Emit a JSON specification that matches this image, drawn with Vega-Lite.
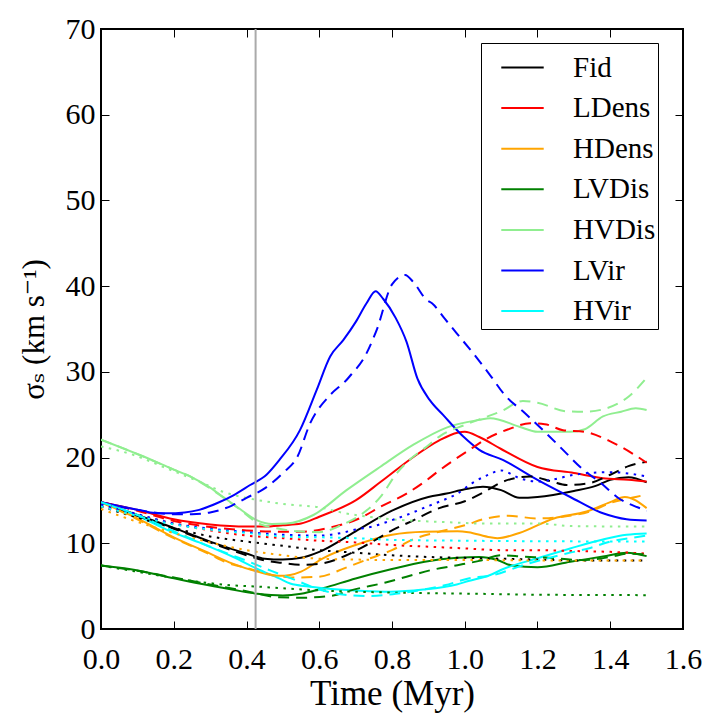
{
  "$schema": "https://vega.github.io/schema/vega-lite/v6.json",
  "width": 582,
  "height": 600,
  "autosize": {"type": "none"},
  "padding": {"left": 101, "top": 29, "right": 36, "bottom": 99},
  "background": "white",
  "config": {
    "view": {"stroke": "#000", "strokeWidth": 2},
    "font": "Liberation Serif, DejaVu Serif, serif",
    "style": {
      "guide-label": {"font": "Liberation Serif, DejaVu Serif, serif", "fill": "#000"},
      "guide-title": {"font": "Liberation Serif, DejaVu Serif, serif", "fill": "#000", "fontWeight": "normal"}
    },
    "axis": {
      "domain": false,
      "grid": false,
      "tickColor": "#000",
      "tickWidth": 1,
      "tickSize": -8,
      "labelFont": "Liberation Serif, DejaVu Serif, serif",
      "labelFontSize": 30,
      "labelColor": "#000",
      "titleFont": "Liberation Serif, DejaVu Serif, serif",
      "titleFontSize": 35,
      "titleFontWeight": "normal",
      "titleColor": "#000"
    },
    "legend": {
      "labelFont": "Liberation Serif, DejaVu Serif, serif",
      "labelFontSize": 29,
      "labelColor": "#000",
      "strokeColor": "#000",
      "fillColor": "white",
      "cornerRadius": 0
    }
  },
  "data": {
    "values": [
      {"m":"Fid","s":"solid","t":0,"v":14.8},{"m":"Fid","s":"solid","t":0.1,"v":13.3},{"m":"Fid","s":"solid","t":0.2,"v":11.8},{"m":"Fid","s":"solid","t":0.3,"v":10.2},{"m":"Fid","s":"solid","t":0.4,"v":8.8},{"m":"Fid","s":"solid","t":0.45,"v":8.2},{"m":"Fid","s":"solid","t":0.5,"v":8.1},{"m":"Fid","s":"solid","t":0.55,"v":8.3},{"m":"Fid","s":"solid","t":0.6,"v":9.0},{"m":"Fid","s":"solid","t":0.7,"v":11.4},{"m":"Fid","s":"solid","t":0.8,"v":13.8},{"m":"Fid","s":"solid","t":0.9,"v":15.4},{"m":"Fid","s":"solid","t":0.95,"v":15.8},{"m":"Fid","s":"solid","t":1.0,"v":16.3},{"m":"Fid","s":"solid","t":1.05,"v":16.6},{"m":"Fid","s":"solid","t":1.1,"v":16.2},{"m":"Fid","s":"solid","t":1.15,"v":15.3},{"m":"Fid","s":"solid","t":1.2,"v":15.4},{"m":"Fid","s":"solid","t":1.3,"v":16.1},{"m":"Fid","s":"solid","t":1.36,"v":16.7},{"m":"Fid","s":"solid","t":1.4,"v":17.4},{"m":"Fid","s":"solid","t":1.45,"v":17.7},{"m":"Fid","s":"solid","t":1.5,"v":17.1},
      {"m":"Fid","s":"dashed","t":0,"v":14.8},{"m":"Fid","s":"dashed","t":0.1,"v":13.2},{"m":"Fid","s":"dashed","t":0.2,"v":11.7},{"m":"Fid","s":"dashed","t":0.3,"v":10.1},{"m":"Fid","s":"dashed","t":0.4,"v":8.6},{"m":"Fid","s":"dashed","t":0.45,"v":8.0},{"m":"Fid","s":"dashed","t":0.5,"v":7.7},{"m":"Fid","s":"dashed","t":0.55,"v":7.5},{"m":"Fid","s":"dashed","t":0.6,"v":7.6},{"m":"Fid","s":"dashed","t":0.675,"v":8.6},{"m":"Fid","s":"dashed","t":0.73,"v":9.8},{"m":"Fid","s":"dashed","t":0.8,"v":11.5},{"m":"Fid","s":"dashed","t":0.86,"v":12.7},{"m":"Fid","s":"dashed","t":0.93,"v":14.1},{"m":"Fid","s":"dashed","t":1.0,"v":14.9},{"m":"Fid","s":"dashed","t":1.05,"v":15.9},{"m":"Fid","s":"dashed","t":1.1,"v":17.1},{"m":"Fid","s":"dashed","t":1.18,"v":17.8},{"m":"Fid","s":"dashed","t":1.24,"v":17.2},{"m":"Fid","s":"dashed","t":1.28,"v":16.8},{"m":"Fid","s":"dashed","t":1.34,"v":17.0},{"m":"Fid","s":"dashed","t":1.4,"v":18.0},{"m":"Fid","s":"dashed","t":1.45,"v":19.0},{"m":"Fid","s":"dashed","t":1.5,"v":19.5},
      {"m":"Fid","s":"dotted","t":0,"v":14.3},{"m":"Fid","s":"dotted","t":0.1,"v":13.0},{"m":"Fid","s":"dotted","t":0.2,"v":11.8},{"m":"Fid","s":"dotted","t":0.3,"v":10.8},{"m":"Fid","s":"dotted","t":0.4,"v":10.2},{"m":"Fid","s":"dotted","t":0.5,"v":9.7},{"m":"Fid","s":"dotted","t":0.6,"v":9.2},{"m":"Fid","s":"dotted","t":0.7,"v":8.9},{"m":"Fid","s":"dotted","t":0.8,"v":8.6},{"m":"Fid","s":"dotted","t":0.9,"v":8.4},{"m":"Fid","s":"dotted","t":1.0,"v":8.3},{"m":"Fid","s":"dotted","t":1.1,"v":8.2},{"m":"Fid","s":"dotted","t":1.2,"v":8.1},{"m":"Fid","s":"dotted","t":1.3,"v":8.0},{"m":"Fid","s":"dotted","t":1.4,"v":8.0},{"m":"Fid","s":"dotted","t":1.5,"v":8.0},
      {"m":"LDens","s":"solid","t":0,"v":14.8},{"m":"LDens","s":"solid","t":0.1,"v":13.9},{"m":"LDens","s":"solid","t":0.2,"v":12.8},{"m":"LDens","s":"solid","t":0.3,"v":12.2},{"m":"LDens","s":"solid","t":0.4,"v":11.95},{"m":"LDens","s":"solid","t":0.45,"v":11.95},{"m":"LDens","s":"solid","t":0.5,"v":12.1},{"m":"LDens","s":"solid","t":0.55,"v":12.3},{"m":"LDens","s":"solid","t":0.6,"v":13.1},{"m":"LDens","s":"solid","t":0.7,"v":15.0},{"m":"LDens","s":"solid","t":0.77,"v":17.2},{"m":"LDens","s":"solid","t":0.86,"v":20.1},{"m":"LDens","s":"solid","t":0.93,"v":22.0},{"m":"LDens","s":"solid","t":0.98,"v":22.9},{"m":"LDens","s":"solid","t":1.0,"v":23.0},{"m":"LDens","s":"solid","t":1.04,"v":22.4},{"m":"LDens","s":"solid","t":1.1,"v":21.0},{"m":"LDens","s":"solid","t":1.2,"v":18.9},{"m":"LDens","s":"solid","t":1.3,"v":18.2},{"m":"LDens","s":"solid","t":1.38,"v":17.6},{"m":"LDens","s":"solid","t":1.45,"v":17.4},{"m":"LDens","s":"solid","t":1.5,"v":17.2},
      {"m":"LDens","s":"dashed","t":0,"v":14.8},{"m":"LDens","s":"dashed","t":0.1,"v":13.8},{"m":"LDens","s":"dashed","t":0.2,"v":12.6},{"m":"LDens","s":"dashed","t":0.3,"v":11.9},{"m":"LDens","s":"dashed","t":0.4,"v":11.5},{"m":"LDens","s":"dashed","t":0.5,"v":11.35},{"m":"LDens","s":"dashed","t":0.55,"v":11.35},{"m":"LDens","s":"dashed","t":0.63,"v":11.85},{"m":"LDens","s":"dashed","t":0.71,"v":12.9},{"m":"LDens","s":"dashed","t":0.77,"v":14.3},{"m":"LDens","s":"dashed","t":0.84,"v":15.8},{"m":"LDens","s":"dashed","t":0.89,"v":17.2},{"m":"LDens","s":"dashed","t":0.93,"v":18.5},{"m":"LDens","s":"dashed","t":0.97,"v":19.7},{"m":"LDens","s":"dashed","t":1.02,"v":21.1},{"m":"LDens","s":"dashed","t":1.06,"v":22.2},{"m":"LDens","s":"dashed","t":1.12,"v":23.3},{"m":"LDens","s":"dashed","t":1.18,"v":24.0},{"m":"LDens","s":"dashed","t":1.22,"v":23.9},{"m":"LDens","s":"dashed","t":1.27,"v":23.2},{"m":"LDens","s":"dashed","t":1.33,"v":23.0},{"m":"LDens","s":"dashed","t":1.4,"v":21.9},{"m":"LDens","s":"dashed","t":1.46,"v":20.5},{"m":"LDens","s":"dashed","t":1.5,"v":19.4},
      {"m":"LDens","s":"dotted","t":0,"v":14.3},{"m":"LDens","s":"dotted","t":0.1,"v":13.3},{"m":"LDens","s":"dotted","t":0.2,"v":12.3},{"m":"LDens","s":"dotted","t":0.3,"v":11.5},{"m":"LDens","s":"dotted","t":0.4,"v":10.9},{"m":"LDens","s":"dotted","t":0.5,"v":10.6},{"m":"LDens","s":"dotted","t":0.6,"v":10.3},{"m":"LDens","s":"dotted","t":0.7,"v":10.1},{"m":"LDens","s":"dotted","t":0.8,"v":9.8},{"m":"LDens","s":"dotted","t":0.9,"v":9.6},{"m":"LDens","s":"dotted","t":1.0,"v":9.4},{"m":"LDens","s":"dotted","t":1.1,"v":9.2},{"m":"LDens","s":"dotted","t":1.2,"v":9.2},{"m":"LDens","s":"dotted","t":1.3,"v":9.1},{"m":"LDens","s":"dotted","t":1.4,"v":9.0},{"m":"LDens","s":"dotted","t":1.5,"v":8.8},
      {"m":"HDens","s":"solid","t":0,"v":14.8},{"m":"HDens","s":"solid","t":0.1,"v":12.9},{"m":"HDens","s":"solid","t":0.2,"v":10.7},{"m":"HDens","s":"solid","t":0.3,"v":8.8},{"m":"HDens","s":"solid","t":0.36,"v":7.65},{"m":"HDens","s":"solid","t":0.43,"v":6.7},{"m":"HDens","s":"solid","t":0.49,"v":6.2},{"m":"HDens","s":"solid","t":0.52,"v":6.3},{"m":"HDens","s":"solid","t":0.55,"v":6.7},{"m":"HDens","s":"solid","t":0.61,"v":8.25},{"m":"HDens","s":"solid","t":0.7,"v":9.8},{"m":"HDens","s":"solid","t":0.8,"v":11.0},{"m":"HDens","s":"solid","t":0.89,"v":11.35},{"m":"HDens","s":"solid","t":0.98,"v":11.4},{"m":"HDens","s":"solid","t":1.01,"v":11.3},{"m":"HDens","s":"solid","t":1.07,"v":10.7},{"m":"HDens","s":"solid","t":1.09,"v":10.6},{"m":"HDens","s":"solid","t":1.15,"v":11.2},{"m":"HDens","s":"solid","t":1.245,"v":12.9},{"m":"HDens","s":"solid","t":1.335,"v":13.7},{"m":"HDens","s":"solid","t":1.4,"v":14.8},{"m":"HDens","s":"solid","t":1.44,"v":15.4},{"m":"HDens","s":"solid","t":1.5,"v":14.1},
      {"m":"HDens","s":"dashed","t":0,"v":14.8},{"m":"HDens","s":"dashed","t":0.1,"v":12.8},{"m":"HDens","s":"dashed","t":0.2,"v":10.6},{"m":"HDens","s":"dashed","t":0.3,"v":8.7},{"m":"HDens","s":"dashed","t":0.34,"v":7.85},{"m":"HDens","s":"dashed","t":0.41,"v":7.0},{"m":"HDens","s":"dashed","t":0.47,"v":6.3},{"m":"HDens","s":"dashed","t":0.53,"v":6.0},{"m":"HDens","s":"dashed","t":0.6,"v":6.1},{"m":"HDens","s":"dashed","t":0.67,"v":7.1},{"m":"HDens","s":"dashed","t":0.74,"v":8.25},{"m":"HDens","s":"dashed","t":0.8,"v":9.2},{"m":"HDens","s":"dashed","t":0.86,"v":10.5},{"m":"HDens","s":"dashed","t":0.93,"v":11.35},{"m":"HDens","s":"dashed","t":1.0,"v":12.1},{"m":"HDens","s":"dashed","t":1.06,"v":12.9},{"m":"HDens","s":"dashed","t":1.12,"v":13.2},{"m":"HDens","s":"dashed","t":1.2,"v":12.9},{"m":"HDens","s":"dashed","t":1.27,"v":13.1},{"m":"HDens","s":"dashed","t":1.35,"v":13.8},{"m":"HDens","s":"dashed","t":1.4,"v":14.7},{"m":"HDens","s":"dashed","t":1.47,"v":15.4},{"m":"HDens","s":"dashed","t":1.5,"v":15.7},
      {"m":"HDens","s":"dotted","t":0,"v":14.0},{"m":"HDens","s":"dotted","t":0.1,"v":12.5},{"m":"HDens","s":"dotted","t":0.2,"v":11.2},{"m":"HDens","s":"dotted","t":0.3,"v":10.1},{"m":"HDens","s":"dotted","t":0.4,"v":9.2},{"m":"HDens","s":"dotted","t":0.5,"v":8.6},{"m":"HDens","s":"dotted","t":0.6,"v":8.2},{"m":"HDens","s":"dotted","t":0.7,"v":8.1},{"m":"HDens","s":"dotted","t":0.8,"v":8.05},{"m":"HDens","s":"dotted","t":1.0,"v":8.05},{"m":"HDens","s":"dotted","t":1.2,"v":8.0},{"m":"HDens","s":"dotted","t":1.5,"v":8.0},
      {"m":"LVDis","s":"solid","t":0,"v":7.4},{"m":"LVDis","s":"solid","t":0.09,"v":6.9},{"m":"LVDis","s":"solid","t":0.18,"v":6.1},{"m":"LVDis","s":"solid","t":0.27,"v":5.3},{"m":"LVDis","s":"solid","t":0.36,"v":4.6},{"m":"LVDis","s":"solid","t":0.43,"v":4.1},{"m":"LVDis","s":"solid","t":0.5,"v":3.9},{"m":"LVDis","s":"solid","t":0.55,"v":4.1},{"m":"LVDis","s":"solid","t":0.61,"v":4.75},{"m":"LVDis","s":"solid","t":0.7,"v":5.9},{"m":"LVDis","s":"solid","t":0.8,"v":7.0},{"m":"LVDis","s":"solid","t":0.89,"v":7.85},{"m":"LVDis","s":"solid","t":0.98,"v":8.3},{"m":"LVDis","s":"solid","t":1.04,"v":8.4},{"m":"LVDis","s":"solid","t":1.09,"v":8.05},{"m":"LVDis","s":"solid","t":1.13,"v":7.4},{"m":"LVDis","s":"solid","t":1.2,"v":7.2},{"m":"LVDis","s":"solid","t":1.29,"v":7.85},{"m":"LVDis","s":"solid","t":1.38,"v":8.45},{"m":"LVDis","s":"solid","t":1.445,"v":8.9},{"m":"LVDis","s":"solid","t":1.5,"v":8.5},
      {"m":"LVDis","s":"dashed","t":0,"v":7.4},{"m":"LVDis","s":"dashed","t":0.1,"v":6.8},{"m":"LVDis","s":"dashed","t":0.2,"v":6.0},{"m":"LVDis","s":"dashed","t":0.3,"v":5.2},{"m":"LVDis","s":"dashed","t":0.4,"v":4.4},{"m":"LVDis","s":"dashed","t":0.49,"v":3.7},{"m":"LVDis","s":"dashed","t":0.55,"v":3.65},{"m":"LVDis","s":"dashed","t":0.63,"v":3.85},{"m":"LVDis","s":"dashed","t":0.7,"v":4.65},{"m":"LVDis","s":"dashed","t":0.78,"v":5.4},{"m":"LVDis","s":"dashed","t":0.84,"v":6.1},{"m":"LVDis","s":"dashed","t":0.91,"v":6.9},{"m":"LVDis","s":"dashed","t":0.98,"v":7.45},{"m":"LVDis","s":"dashed","t":1.04,"v":7.95},{"m":"LVDis","s":"dashed","t":1.1,"v":8.6},{"m":"LVDis","s":"dashed","t":1.16,"v":8.45},{"m":"LVDis","s":"dashed","t":1.23,"v":8.3},{"m":"LVDis","s":"dashed","t":1.32,"v":8.05},{"m":"LVDis","s":"dashed","t":1.4,"v":8.4},{"m":"LVDis","s":"dashed","t":1.45,"v":8.8},{"m":"LVDis","s":"dashed","t":1.5,"v":8.7},
      {"m":"LVDis","s":"dotted","t":0,"v":7.4},{"m":"LVDis","s":"dotted","t":0.09,"v":6.75},{"m":"LVDis","s":"dotted","t":0.18,"v":6.1},{"m":"LVDis","s":"dotted","t":0.27,"v":5.5},{"m":"LVDis","s":"dotted","t":0.36,"v":5.1},{"m":"LVDis","s":"dotted","t":0.43,"v":4.95},{"m":"LVDis","s":"dotted","t":0.5,"v":4.75},{"m":"LVDis","s":"dotted","t":0.6,"v":4.5},{"m":"LVDis","s":"dotted","t":0.8,"v":4.25},{"m":"LVDis","s":"dotted","t":1.05,"v":4.1},{"m":"LVDis","s":"dotted","t":1.2,"v":4.0},{"m":"LVDis","s":"dotted","t":1.5,"v":3.95},
      {"m":"HVDis","s":"solid","t":0,"v":22.1},{"m":"HVDis","s":"solid","t":0.107,"v":20.3},{"m":"HVDis","s":"solid","t":0.2,"v":18.6},{"m":"HVDis","s":"solid","t":0.25,"v":17.7},{"m":"HVDis","s":"solid","t":0.3,"v":16.5},{"m":"HVDis","s":"solid","t":0.336,"v":15.4},{"m":"HVDis","s":"solid","t":0.382,"v":14.0},{"m":"HVDis","s":"solid","t":0.428,"v":12.7},{"m":"HVDis","s":"solid","t":0.47,"v":12.25},{"m":"HVDis","s":"solid","t":0.51,"v":12.3},{"m":"HVDis","s":"solid","t":0.584,"v":13.3},{"m":"HVDis","s":"solid","t":0.675,"v":16.2},{"m":"HVDis","s":"solid","t":0.767,"v":18.9},{"m":"HVDis","s":"solid","t":0.859,"v":21.5},{"m":"HVDis","s":"solid","t":0.95,"v":23.5},{"m":"HVDis","s":"solid","t":1.04,"v":24.4},{"m":"HVDis","s":"solid","t":1.07,"v":24.6},{"m":"HVDis","s":"solid","t":1.15,"v":23.6},{"m":"HVDis","s":"solid","t":1.2,"v":23.0},{"m":"HVDis","s":"solid","t":1.29,"v":23.0},{"m":"HVDis","s":"solid","t":1.33,"v":23.3},{"m":"HVDis","s":"solid","t":1.38,"v":24.8},{"m":"HVDis","s":"solid","t":1.43,"v":25.35},{"m":"HVDis","s":"solid","t":1.47,"v":25.75},{"m":"HVDis","s":"solid","t":1.5,"v":25.55},
      {"m":"HVDis","s":"dashed","t":0,"v":22.1},{"m":"HVDis","s":"dashed","t":0.1,"v":20.4},{"m":"HVDis","s":"dashed","t":0.2,"v":18.6},{"m":"HVDis","s":"dashed","t":0.25,"v":17.7},{"m":"HVDis","s":"dashed","t":0.3,"v":16.4},{"m":"HVDis","s":"dashed","t":0.38,"v":14.0},{"m":"HVDis","s":"dashed","t":0.43,"v":12.4},{"m":"HVDis","s":"dashed","t":0.49,"v":11.7},{"m":"HVDis","s":"dashed","t":0.54,"v":11.4},{"m":"HVDis","s":"dashed","t":0.6,"v":11.3},{"m":"HVDis","s":"dashed","t":0.66,"v":12.1},{"m":"HVDis","s":"dashed","t":0.72,"v":13.5},{"m":"HVDis","s":"dashed","t":0.77,"v":15.5},{"m":"HVDis","s":"dashed","t":0.81,"v":18.0},{"m":"HVDis","s":"dashed","t":0.85,"v":19.8},{"m":"HVDis","s":"dashed","t":0.89,"v":21.1},{"m":"HVDis","s":"dashed","t":0.935,"v":22.6},{"m":"HVDis","s":"dashed","t":1.0,"v":23.8},{"m":"HVDis","s":"dashed","t":1.05,"v":24.6},{"m":"HVDis","s":"dashed","t":1.1,"v":25.4},{"m":"HVDis","s":"dashed","t":1.16,"v":26.6},{"m":"HVDis","s":"dashed","t":1.2,"v":26.4},{"m":"HVDis","s":"dashed","t":1.28,"v":25.4},{"m":"HVDis","s":"dashed","t":1.33,"v":25.35},{"m":"HVDis","s":"dashed","t":1.39,"v":25.75},{"m":"HVDis","s":"dashed","t":1.45,"v":27.1},{"m":"HVDis","s":"dashed","t":1.5,"v":29.3},
      {"m":"HVDis","s":"dotted","t":0,"v":21.3},{"m":"HVDis","s":"dotted","t":0.09,"v":20.3},{"m":"HVDis","s":"dotted","t":0.18,"v":18.75},{"m":"HVDis","s":"dotted","t":0.27,"v":17.2},{"m":"HVDis","s":"dotted","t":0.336,"v":16.0},{"m":"HVDis","s":"dotted","t":0.43,"v":15.05},{"m":"HVDis","s":"dotted","t":0.52,"v":14.5},{"m":"HVDis","s":"dotted","t":0.6,"v":14.2},{"m":"HVDis","s":"dotted","t":0.66,"v":13.6},{"m":"HVDis","s":"dotted","t":0.8,"v":12.8},{"m":"HVDis","s":"dotted","t":0.93,"v":12.5},{"m":"HVDis","s":"dotted","t":1.06,"v":12.3},{"m":"HVDis","s":"dotted","t":1.2,"v":12.3},{"m":"HVDis","s":"dotted","t":1.3,"v":12.0},{"m":"HVDis","s":"dotted","t":1.5,"v":11.95},
      {"m":"LVir","s":"solid","t":0,"v":14.8},{"m":"LVir","s":"solid","t":0.09,"v":14.0},{"m":"LVir","s":"solid","t":0.135,"v":13.6},{"m":"LVir","s":"solid","t":0.18,"v":13.5},{"m":"LVir","s":"solid","t":0.23,"v":13.6},{"m":"LVir","s":"solid","t":0.27,"v":13.9},{"m":"LVir","s":"solid","t":0.32,"v":14.7},{"m":"LVir","s":"solid","t":0.364,"v":15.6},{"m":"LVir","s":"solid","t":0.41,"v":16.8},{"m":"LVir","s":"solid","t":0.455,"v":18.0},{"m":"LVir","s":"solid","t":0.49,"v":19.7},{"m":"LVir","s":"solid","t":0.547,"v":23.2},{"m":"LVir","s":"solid","t":0.593,"v":27.9},{"m":"LVir","s":"solid","t":0.63,"v":31.8},{"m":"LVir","s":"solid","t":0.666,"v":33.7},{"m":"LVir","s":"solid","t":0.7,"v":35.8},{"m":"LVir","s":"solid","t":0.73,"v":38.0},{"m":"LVir","s":"solid","t":0.755,"v":39.4},{"m":"LVir","s":"solid","t":0.776,"v":38.5},{"m":"LVir","s":"solid","t":0.81,"v":36.3},{"m":"LVir","s":"solid","t":0.84,"v":33.5},{"m":"LVir","s":"solid","t":0.87,"v":29.2},{"m":"LVir","s":"solid","t":0.904,"v":26.7},{"m":"LVir","s":"solid","t":0.941,"v":24.95},{"m":"LVir","s":"solid","t":0.996,"v":22.45},{"m":"LVir","s":"solid","t":1.04,"v":20.9},{"m":"LVir","s":"solid","t":1.106,"v":19.7},{"m":"LVir","s":"solid","t":1.2,"v":17.4},{"m":"LVir","s":"solid","t":1.29,"v":15.4},{"m":"LVir","s":"solid","t":1.38,"v":13.5},{"m":"LVir","s":"solid","t":1.445,"v":12.8},{"m":"LVir","s":"solid","t":1.5,"v":12.65},
      {"m":"LVir","s":"dashed","t":0,"v":14.8},{"m":"LVir","s":"dashed","t":0.1,"v":13.9},{"m":"LVir","s":"dashed","t":0.2,"v":13.4},{"m":"LVir","s":"dashed","t":0.25,"v":13.4},{"m":"LVir","s":"dashed","t":0.3,"v":13.6},{"m":"LVir","s":"dashed","t":0.36,"v":14.4},{"m":"LVir","s":"dashed","t":0.4,"v":15.3},{"m":"LVir","s":"dashed","t":0.45,"v":16.4},{"m":"LVir","s":"dashed","t":0.5,"v":18.2},{"m":"LVir","s":"dashed","t":0.54,"v":20.1},{"m":"LVir","s":"dashed","t":0.575,"v":24.0},{"m":"LVir","s":"dashed","t":0.63,"v":27.3},{"m":"LVir","s":"dashed","t":0.675,"v":29.05},{"m":"LVir","s":"dashed","t":0.69,"v":29.8},{"m":"LVir","s":"dashed","t":0.72,"v":31.4},{"m":"LVir","s":"dashed","t":0.758,"v":34.9},{"m":"LVir","s":"dashed","t":0.8,"v":40.2},{"m":"LVir","s":"dashed","t":0.836,"v":41.3},{"m":"LVir","s":"dashed","t":0.86,"v":40.4},{"m":"LVir","s":"dashed","t":0.895,"v":38.4},{"m":"LVir","s":"dashed","t":0.91,"v":38.0},{"m":"LVir","s":"dashed","t":0.945,"v":36.2},{"m":"LVir","s":"dashed","t":0.978,"v":34.5},{"m":"LVir","s":"dashed","t":1.03,"v":31.8},{"m":"LVir","s":"dashed","t":1.07,"v":29.6},{"m":"LVir","s":"dashed","t":1.11,"v":27.3},{"m":"LVir","s":"dashed","t":1.165,"v":25.2},{"m":"LVir","s":"dashed","t":1.22,"v":23.0},{"m":"LVir","s":"dashed","t":1.27,"v":20.9},{"m":"LVir","s":"dashed","t":1.32,"v":18.8},{"m":"LVir","s":"dashed","t":1.375,"v":17.0},{"m":"LVir","s":"dashed","t":1.425,"v":15.2},{"m":"LVir","s":"dashed","t":1.475,"v":14.2},{"m":"LVir","s":"dashed","t":1.5,"v":13.8},
      {"m":"LVir","s":"dotted","t":0,"v":14.5},{"m":"LVir","s":"dotted","t":0.1,"v":13.4},{"m":"LVir","s":"dotted","t":0.2,"v":12.3},{"m":"LVir","s":"dotted","t":0.3,"v":11.7},{"m":"LVir","s":"dotted","t":0.4,"v":11.3},{"m":"LVir","s":"dotted","t":0.5,"v":11.0},{"m":"LVir","s":"dotted","t":0.6,"v":10.9},{"m":"LVir","s":"dotted","t":0.66,"v":11.2},{"m":"LVir","s":"dotted","t":0.7,"v":11.6},{"m":"LVir","s":"dotted","t":0.75,"v":12.0},{"m":"LVir","s":"dotted","t":0.8,"v":12.7},{"m":"LVir","s":"dotted","t":0.84,"v":13.3},{"m":"LVir","s":"dotted","t":0.886,"v":14.1},{"m":"LVir","s":"dotted","t":0.93,"v":14.85},{"m":"LVir","s":"dotted","t":0.98,"v":15.8},{"m":"LVir","s":"dotted","t":1.02,"v":17.0},{"m":"LVir","s":"dotted","t":1.06,"v":17.9},{"m":"LVir","s":"dotted","t":1.1,"v":18.5},{"m":"LVir","s":"dotted","t":1.15,"v":17.6},{"m":"LVir","s":"dotted","t":1.2,"v":17.2},{"m":"LVir","s":"dotted","t":1.25,"v":17.5},{"m":"LVir","s":"dotted","t":1.3,"v":18.0},{"m":"LVir","s":"dotted","t":1.4,"v":18.3},{"m":"LVir","s":"dotted","t":1.5,"v":17.8},
      {"m":"HVir","s":"solid","t":0,"v":14.8},{"m":"HVir","s":"solid","t":0.09,"v":13.4},{"m":"HVir","s":"solid","t":0.18,"v":11.6},{"m":"HVir","s":"solid","t":0.27,"v":10.1},{"m":"HVir","s":"solid","t":0.364,"v":8.4},{"m":"HVir","s":"solid","t":0.43,"v":7.0},{"m":"HVir","s":"solid","t":0.49,"v":5.9},{"m":"HVir","s":"solid","t":0.52,"v":5.3},{"m":"HVir","s":"solid","t":0.57,"v":4.95},{"m":"HVir","s":"solid","t":0.61,"v":4.75},{"m":"HVir","s":"solid","t":0.7,"v":4.5},{"m":"HVir","s":"solid","t":0.795,"v":4.35},{"m":"HVir","s":"solid","t":0.886,"v":4.6},{"m":"HVir","s":"solid","t":0.978,"v":5.2},{"m":"HVir","s":"solid","t":1.01,"v":5.6},{"m":"HVir","s":"solid","t":1.07,"v":6.3},{"m":"HVir","s":"solid","t":1.106,"v":7.0},{"m":"HVir","s":"solid","t":1.2,"v":8.25},{"m":"HVir","s":"solid","t":1.29,"v":9.4},{"m":"HVir","s":"solid","t":1.38,"v":10.45},{"m":"HVir","s":"solid","t":1.445,"v":11.0},{"m":"HVir","s":"solid","t":1.5,"v":11.15},
      {"m":"HVir","s":"dashed","t":0,"v":14.8},{"m":"HVir","s":"dashed","t":0.1,"v":13.3},{"m":"HVir","s":"dashed","t":0.2,"v":11.4},{"m":"HVir","s":"dashed","t":0.3,"v":9.6},{"m":"HVir","s":"dashed","t":0.41,"v":7.8},{"m":"HVir","s":"dashed","t":0.47,"v":6.75},{"m":"HVir","s":"dashed","t":0.535,"v":5.7},{"m":"HVir","s":"dashed","t":0.6,"v":4.6},{"m":"HVir","s":"dashed","t":0.67,"v":4.0},{"m":"HVir","s":"dashed","t":0.74,"v":3.85},{"m":"HVir","s":"dashed","t":0.81,"v":4.1},{"m":"HVir","s":"dashed","t":0.88,"v":4.55},{"m":"HVir","s":"dashed","t":0.945,"v":5.1},{"m":"HVir","s":"dashed","t":1.01,"v":5.9},{"m":"HVir","s":"dashed","t":1.08,"v":6.3},{"m":"HVir","s":"dashed","t":1.16,"v":7.45},{"m":"HVir","s":"dashed","t":1.21,"v":8.05},{"m":"HVir","s":"dashed","t":1.28,"v":8.8},{"m":"HVir","s":"dashed","t":1.34,"v":9.4},{"m":"HVir","s":"dashed","t":1.4,"v":10.2},{"m":"HVir","s":"dashed","t":1.47,"v":10.7},{"m":"HVir","s":"dashed","t":1.5,"v":10.9},
      {"m":"HVir","s":"dotted","t":0,"v":14.3},{"m":"HVir","s":"dotted","t":0.1,"v":13.2},{"m":"HVir","s":"dotted","t":0.2,"v":12.2},{"m":"HVir","s":"dotted","t":0.3,"v":11.6},{"m":"HVir","s":"dotted","t":0.4,"v":11.2},{"m":"HVir","s":"dotted","t":0.5,"v":10.8},{"m":"HVir","s":"dotted","t":0.6,"v":10.7},{"m":"HVir","s":"dotted","t":0.7,"v":10.6},{"m":"HVir","s":"dotted","t":0.8,"v":10.4},{"m":"HVir","s":"dotted","t":1.0,"v":10.3},{"m":"HVir","s":"dotted","t":1.5,"v":10.2}
    ]
  },
  "layer": [
    {
      "transform": [{"filter": "datum.s === 'solid'"}],
      "mark": {"type": "line", "strokeWidth": 2, "interpolate": "monotone", "clip": true},
      "encoding": {
        "x": {
          "field": "t", "type": "quantitative",
          "scale": {"domain": [0, 1.6], "nice": false, "zero": false},
          "axis": {"orient": "bottom", "values": [0, 0.2, 0.4, 0.6, 0.8, 1.0, 1.2, 1.4, 1.6], "format": ".1f", "labelPadding": 23, "title": "Time (Myr)", "titlePadding": 2, "labelFlush": false}
        },
        "y": {
          "field": "v", "type": "quantitative",
          "scale": {"domain": [0, 70], "nice": false},
          "axis": {"orient": "left", "values": [0, 10, 20, 30, 40, 50, 60, 70], "labelPadding": 14, "title": "σₛ (km s⁻¹)", "titleFontSize": 31, "titlePadding": 15, "labelFlush": false}
        },
        "color": {
          "field": "m", "type": "nominal",
          "scale": {
            "domain": ["Fid", "LDens", "HDens", "LVDis", "HVDis", "LVir", "HVir"],
            "range": ["#000000", "#ff0000", "#ffa500", "#008000", "#90ee90", "#0000ff", "#00ffff"]
          },
          "legend": {
            "title": null,
            "orient": "none",
            "legendX": 380,
            "legendY": 14,
            "symbolType": "stroke",
            "symbolSize": 1800,
            "symbolStrokeWidth": 2,
            "labelOffset": 28,
            "rowPadding": 2.6,
            "padding": 2,
            "symbolOffset": 17
          }
        }
      }
    },
    {
      "transform": [{"filter": "datum.s !== 'solid'"}],
      "mark": {"type": "line", "strokeWidth": 2, "interpolate": "monotone", "clip": true},
      "encoding": {
        "x": {
          "field": "t", "type": "quantitative",
          "axis": {"orient": "top", "values": [0, 0.2, 0.4, 0.6, 0.8, 1.0, 1.2, 1.4, 1.6], "labels": false, "title": null}
        },
        "y": {
          "field": "v", "type": "quantitative",
          "axis": {"orient": "right", "values": [0, 10, 20, 30, 40, 50, 60, 70], "labels": false, "title": null}
        },
        "color": {"field": "m", "type": "nominal", "legend": null},
        "strokeDash": {
          "field": "s", "type": "nominal",
          "scale": {"domain": ["dashed", "dotted"], "range": [[11, 7], [2.5, 5.5]]},
          "legend": null
        }
      }
    },
    {
      "data": {"values": [{"t": 0.425}]},
      "mark": {"type": "rule", "color": "#aaaaaa", "strokeWidth": 2},
      "encoding": {
        "x": {"field": "t", "type": "quantitative", "axis": null}
      }
    }
  ],
  "resolve": {"axis": {"x": "independent", "y": "independent"}}
}
